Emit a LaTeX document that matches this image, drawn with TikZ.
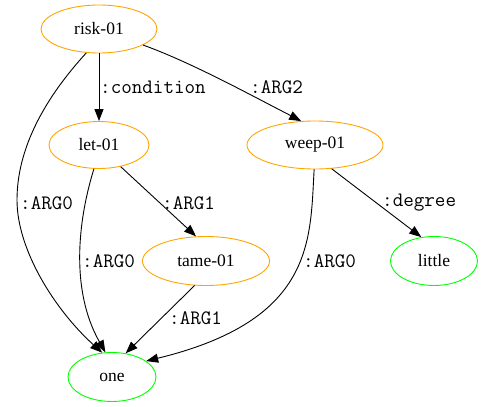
\documentclass[tikz,border=0pt]{standalone}
\usepackage{fontspec}
\setmainfont{Liberation Serif}
\usetikzlibrary{shapes.geometric,arrows.meta}
\definecolor{concept}{HTML}{FFA500}
\definecolor{leaf}{HTML}{00FF00}
\begin{document}
\begin{tikzpicture}[x=1pt,y=-1pt,
  every node/.style={font=\fontsize{17.5}{19}\selectfont},
  pred/.style={ellipse,draw=concept,line width=0.9pt,inner sep=0pt},
  atom/.style={ellipse,draw=leaf,line width=0.9pt,inner sep=0pt},
  rel/.style={draw=black,line width=0.9pt,-{Triangle[length=12pt,width=9pt]}},
  lbl/.style={anchor=west,inner sep=0pt,font=\ttfamily\fontsize{20.5}{22}\selectfont}]
\useasboundingbox (0,0) rectangle (483,407);
% concept nodes
\node[pred,minimum width=116pt,minimum height=48pt] (risk) at (99,29) {risk-01};
\node[pred,minimum width=100pt,minimum height=47pt] (let) at (99,145) {let-01};
\node[pred,minimum width=136pt,minimum height=48pt] (weep) at (315,145) {weep-01};
\node[pred,minimum width=127pt,minimum height=49pt] (tame) at (206,261) {tame-01};
\node[atom,minimum width=87pt,minimum height=49pt] (little) at (434,261) {little};
\node[atom,minimum width=88pt,minimum height=49pt] (one) at (112,377) {one};
% relations
\draw[rel] (risk) -- (let);
\draw[rel] (risk.-20) .. controls (190,62) and (245,92) .. (weep.120);
\draw[rel] (risk.-118) .. controls (45,98) and (17,148) .. (17,200)
  .. controls (17,250) and (55,310) .. (one.112);
\draw[rel] (let.-102) .. controls (78,220) and (70,290) .. (one.105);
\draw[rel] (let.-45) -- (tame.112);
\draw[rel] (tame.-115) -- (one.60);
\draw[rel] (weep.-92) .. controls (310,240) and (315,320) .. (one.25);
\draw[rel] (weep.-55) -- (little.118);
% relation labels
\node[lbl] (lcond) at (100,87) {:condition};
\node[lbl] (larg2) at (250,87) {:ARG2};
\node[lbl] (la0r) at (20,203) {:ARG0};
\node[lbl] (la1l) at (162,203) {:ARG1};
\node[lbl] (ldeg) at (382,203) {:degree};
\node[lbl] (la0l) at (82,261) {:ARG0};
\node[lbl] (la0w) at (303,261) {:ARG0};
\node[lbl] (la1t) at (169,318) {:ARG1};
\end{tikzpicture}
\end{document}
